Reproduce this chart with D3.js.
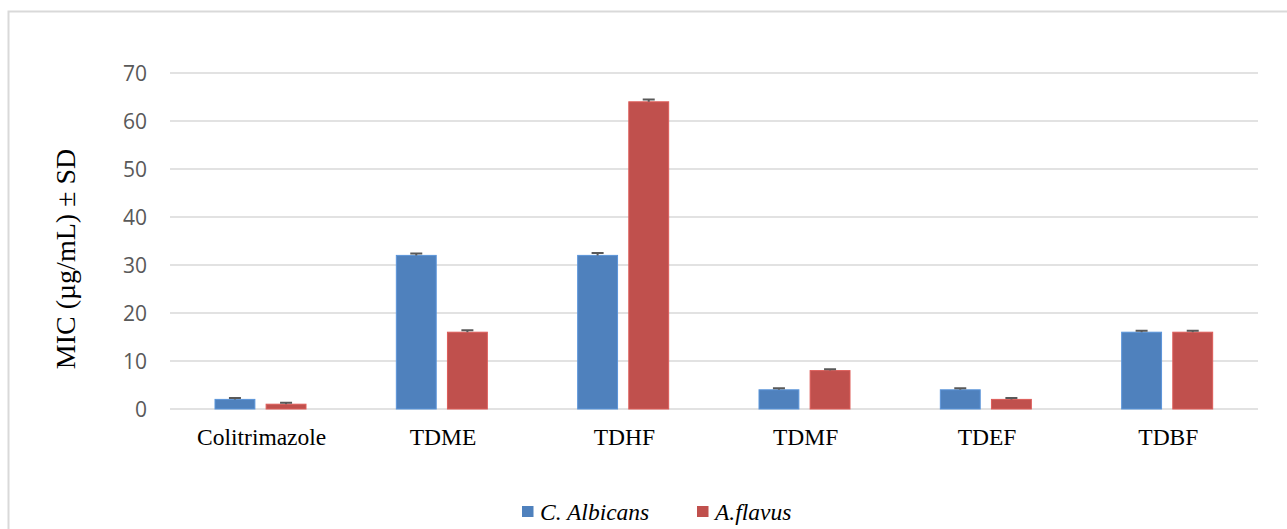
<!DOCTYPE html>
<html><head><meta charset="utf-8">
<script src="https://cdn.jsdelivr.net/npm/d3@7"></script>
<style>body{margin:0;background:#fff}svg{display:block}
.serif{font-family:"Liberation Serif","DejaVu Serif",serif}
.sans{font-family:"Open Sans","Liberation Sans",sans-serif}</style>
</head><body><svg id="c" width="1287" height="529"></svg>
<script>
const categories = ["Colitrimazole","TDME","TDHF","TDMF","TDEF","TDBF"];
const seriesNames = ["C. Albicans","A.flavus"];
const albicans = [2,32,32,4,4,16];
const flavus = [1,16,64,8,2,16];
const albicansSD = [0.3,0.4,0.5,0.3,0.3,0.3];
const flavusSD = [0.3,0.4,0.5,0.3,0.3,0.3];
const yTicks = [0,10,20,30,40,50,60,70];
const colors = ["#4F81BD","#C0504D"];

const svg = d3.select("#c");
svg.append("path").attr("d","M8.5,529 V11.5 H1287").attr("fill","none").attr("stroke","#d9d9d9").attr("stroke-width",2);

const L=170,R=1258,T=73,B=409;
const x = d3.scaleBand().domain(categories).range([L,R]);
const xs = d3.scaleBand().domain(seriesNames).range([45,136]).paddingInner(0.22);
const y = d3.scaleLinear().domain([0,70]).range([B,T]);

svg.append("g").selectAll("line").data(yTicks).join("line")
  .attr("x1",L).attr("x2",R).attr("y1",d=>y(d)).attr("y2",d=>y(d))
  .attr("stroke","#d9d9d9").attr("stroke-width",1.5);

const yAxis = d3.axisLeft(y).tickValues(yTicks).tickSize(0).tickPadding(0);
const ga = svg.append("g").attr("transform",`translate(147,0)`).call(yAxis);
ga.select(".domain").remove();
ga.attr("font-family",null).attr("font-size",null);
ga.selectAll("text").attr("class","sans").style("font-size","21px").attr("fill","#595959").attr("dy","0.36em");

const data = [albicans, flavus], sds=[albicansSD, flavusSD];
seriesNames.forEach((s,si)=>{
  const g = svg.append("g");
  g.selectAll("rect").data(categories).join("rect")
    .attr("x",c=>x(c)+xs(s)).attr("width",xs.bandwidth())
    .attr("y",(c,i)=>y(data[si][i])).attr("height",(c,i)=>B-y(data[si][i]))
    .attr("fill",colors[si]).attr("stroke",d3.color(colors[si]).brighter(0.4)).attr("stroke-width",1);
  g.selectAll("path.err").data(categories).join("path").attr("class","err")
    .attr("d",(c,i)=>{const cx=x(c)+xs(s)+xs.bandwidth()/2, y0=y(data[si][i]), y1=y(data[si][i]+sds[si][i]);
      return `M${cx},${y0}V${y1}M${cx-6},${y1}H${cx+6}`;})
    .attr("stroke","#595959").attr("stroke-width",2).attr("fill","none");
});

svg.append("g").selectAll("text").data(categories).join("text")
  .attr("class","serif")
  .attr("x",c=>x(c)+x.bandwidth()/2+1).attr("y",445).attr("text-anchor","middle")
  .style("font-size","23.5px").attr("fill","#000")
  .text(d=>d);

svg.append("text").attr("class","serif").attr("transform","translate(75,259) rotate(-90)").attr("text-anchor","middle")
  .style("font-size","28px").attr("fill","#000")
  .text("MIC (µg/mL) ± SD");

const legX=[522,697];
seriesNames.forEach((s,i)=>{
  svg.append("rect").attr("x",legX[i]).attr("y",506).attr("width",11.5).attr("height",11).attr("fill",colors[i]);
  svg.append("text").attr("class","serif").attr("x",legX[i]+18).attr("y",520)
    .style("font-style","italic").style("font-size","23.5px").attr("fill","#000").text(s);
});
</script></body></html>
